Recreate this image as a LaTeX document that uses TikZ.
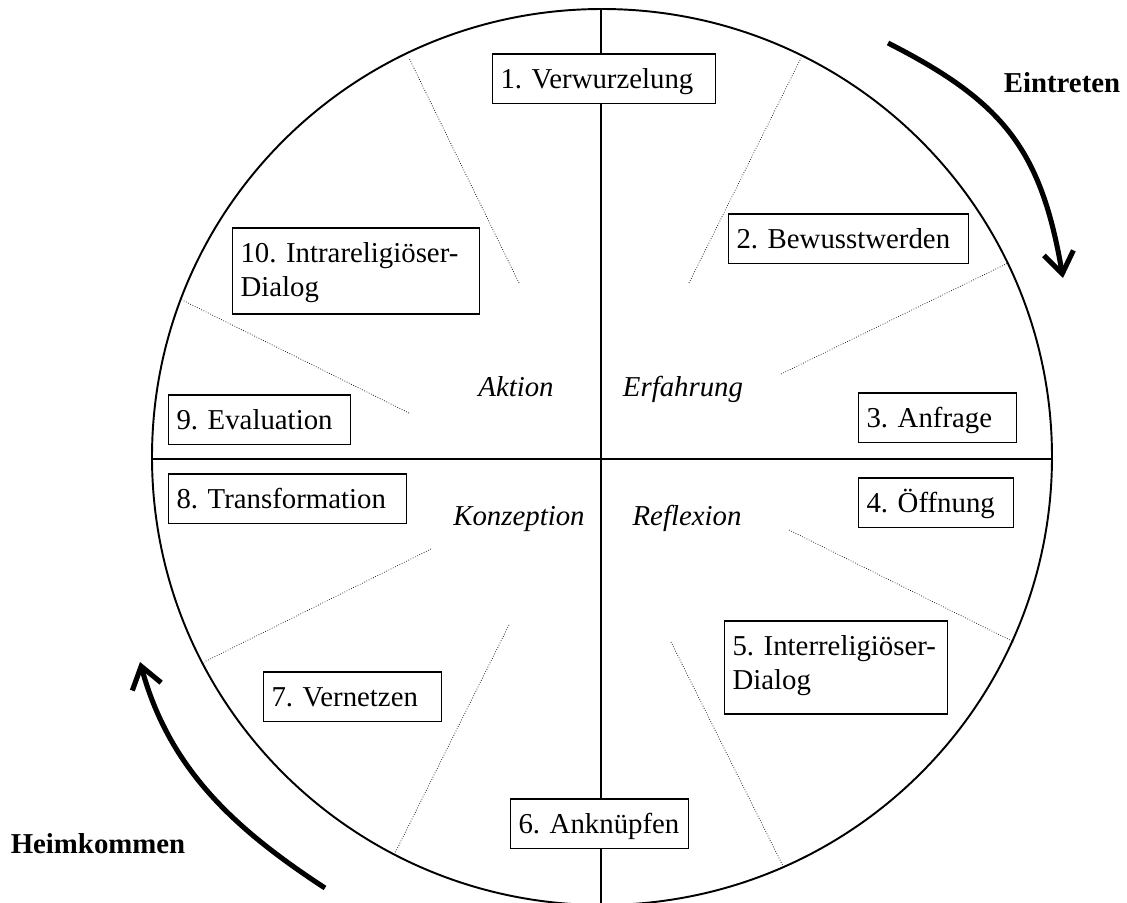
\documentclass[tikz,border=0pt]{standalone}
\usepackage{fontspec}
\setmainfont{Liberation Serif}
\usetikzlibrary{arrows.meta}

\begin{document}
\begin{tikzpicture}[
		x=0.02cm, y=-0.02cm,
		font=\fontsize{16.4pt}{19.8pt}\selectfont\frenchspacing,
		stage/.style={draw, fill=white, line width=0.6pt, align=left, anchor=base west,
			inner xsep=0.16cm, inner ysep=0pt, text height=0.68cm, text depth=0.31cm},
		phase/.style={anchor=base, font=\fontsize{16.4pt}{19.8pt}\selectfont\itshape},
		turn/.style={anchor=base, font=\fontsize{16.4pt}{19.8pt}\selectfont\bfseries},
		sector/.style={densely dotted, line width=0.4pt},
		runarrow/.style={line width=2.9pt, -{Straight Barb[length=12pt, width=17pt]}},
	]
		\useasboundingbox (0,0) rectangle (1127,903);
		
		\coordinate (ctr) at (602,457);
		\coordinate (top) at (601,9);
		\coordinate (bot) at (601,903);
		\coordinate (lft) at (152,459);
		\coordinate (rgt) at (1052,459);
		
		\draw[line width=1.1pt] (ctr) ellipse [x radius=450, y radius=448];
		\draw[line width=0.6pt] (top) -- (bot);
		\draw[line width=0.6pt] (lft) -- (rgt);
		
		% dotted sector lines
		\foreach \xa/\ya/\xb/\yb in {519/283/409/58, 689/283/801/58, 781/374/1008/263, 409/413/182/300,
			789/530/1014/642, 431/549/204/662, 509/625/395/853, 671/642/784/868}
			\draw[sector] (\xa,\ya) -- (\xb,\yb);
		
		\node[stage, text width=4.14cm] (s1) at (492,88) {1.~Verwurzelung};
		\node[stage, text width=4.48cm] (s2) at (728,248) {2.~Bewusstwerden};
		\node[stage, text width=2.84cm] (s3) at (858,427) {3.~Anfrage};
		\node[stage, text width=2.78cm] (s4) at (858,512) {4.~Öffnung};
		\node[stage, text width=4.14cm, text depth=1.18cm] (s5) at (724,655) {5.~Interreligiöser-\\Dialog};
		\node[stage, text width=3.24cm] (s6) at (510,833) {6.~Anknüpfen};
		\node[stage, text width=3.24cm] (s7) at (263,706) {7.~Vernetzen};
		\node[stage, text width=4.44cm] (s8) at (168,508) {8.~Transformation};
		\node[stage, text width=3.32cm] (s9) at (168,429) {9.~Evaluation};
		\node[stage, text width=4.62cm, text depth=1.04cm] (s10) at (232,262) {10.~Intrareligiöser-\\Dialog};
		
		\node[phase] (aktion) at (516,396) {Aktion};
		\node[phase] (erfahrung) at (683,396) {Erfahrung};
		\node[phase] (konzeption) at (519,525) {Konzeption};
		\node[phase] (reflexion) at (687,525) {Reflexion};
		
		\node[turn] (ein) at (1062,92) {Eintreten};
		\node[turn] (heim) at (98,853) {Heimkommen};
		
		\coordinate (ein1) at (888,43);
		\coordinate (ein2) at (1063,278);
		\coordinate (heim1) at (325,888);
		\coordinate (heim2) at (140,662);
		\draw[runarrow] (ein1) .. controls (1004,102) and (1041,150) .. (ein2);
		\draw[runarrow] (heim1) .. controls (233,828) and (169,768) .. (heim2);
	\end{tikzpicture}
\end{document}
